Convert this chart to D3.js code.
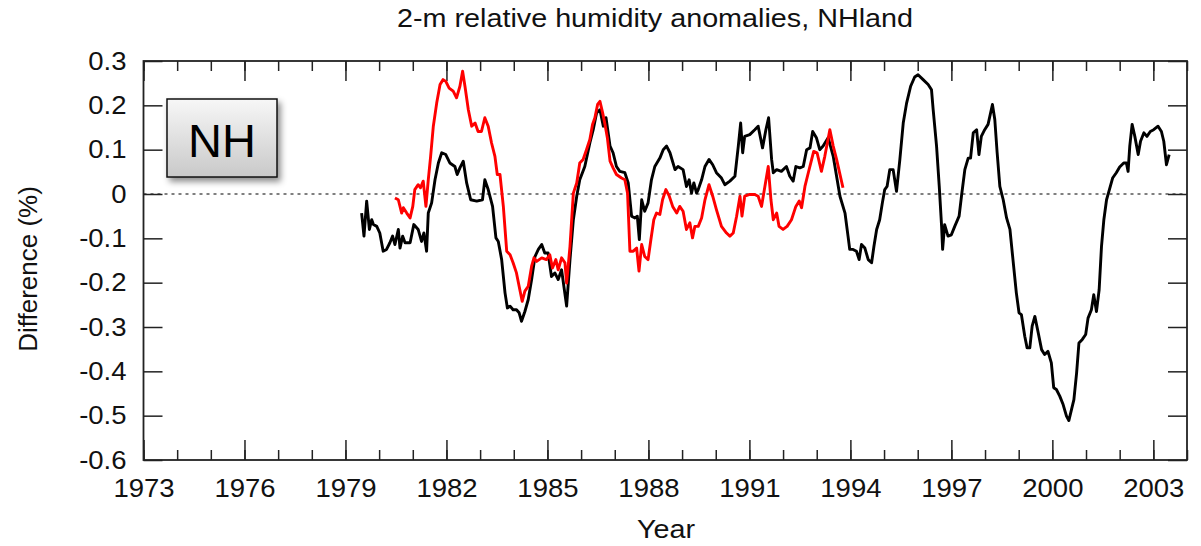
<!DOCTYPE html>
<html>
<head>
<meta charset="utf-8">
<script src="https://cdn.jsdelivr.net/npm/d3@7"></script>
<style>
  html, body { margin: 0; padding: 0; background: #fff; }
  svg { display: block; font-family: "Liberation Sans", Arial, Helvetica, sans-serif; }
</style>
</head>
<body>
<svg id="chart" width="1201" height="546"></svg>
<script>
// Two monthly-ish series (year, % difference)
const blackYears = [1979.48,1979.55,1979.63,1979.71,1979.78,1979.83,1979.93,1980.02,1980.12,1980.22,1980.32,1980.40,1980.47,1980.57,1980.62,1980.70,1980.77,1980.92,1981.03,1981.16,1981.26,1981.33,1981.41,1981.46,1981.56,1981.66,1981.76,1981.86,1981.98,1982.10,1982.25,1982.32,1982.40,1982.50,1982.60,1982.72,1982.90,1983.07,1983.14,1983.24,1983.37,1983.47,1983.54,1983.64,1983.74,1983.81,1983.89,1983.98,1984.08,1984.16,1984.23,1984.33,1984.43,1984.53,1984.63,1984.73,1984.83,1984.92,1985.02,1985.12,1985.22,1985.32,1985.42,1985.57,1985.67,1985.77,1985.87,1985.96,1986.11,1986.26,1986.36,1986.46,1986.56,1986.66,1986.74,1986.86,1986.95,1987.05,1987.15,1987.30,1987.40,1987.50,1987.60,1987.67,1987.73,1987.80,1987.89,1987.99,1988.09,1988.19,1988.34,1988.44,1988.54,1988.64,1988.79,1988.88,1989.03,1989.13,1989.21,1989.28,1989.35,1989.43,1989.48,1989.58,1989.68,1989.80,1989.91,1990.02,1990.17,1990.27,1990.42,1990.57,1990.67,1990.74,1990.80,1990.86,1991.01,1991.16,1991.26,1991.39,1991.49,1991.57,1991.66,1991.71,1991.81,1991.95,1992.10,1992.20,1992.30,1992.38,1992.50,1992.60,1992.70,1992.80,1992.88,1992.99,1993.09,1993.19,1993.34,1993.49,1993.59,1993.69,1993.84,1993.93,1993.98,1994.08,1994.18,1994.26,1994.33,1994.43,1994.53,1994.63,1994.70,1994.78,1994.87,1994.95,1995.02,1995.09,1995.17,1995.27,1995.37,1995.47,1995.57,1995.67,1995.79,1995.91,1996.01,1996.16,1996.31,1996.41,1996.46,1996.56,1996.64,1996.71,1996.74,1996.80,1996.90,1997.00,1997.10,1997.23,1997.30,1997.40,1997.50,1997.57,1997.65,1997.75,1997.82,1997.89,1997.99,1998.09,1998.22,1998.29,1998.36,1998.44,1998.54,1998.64,1998.74,1998.83,1998.93,1999.01,1999.08,1999.18,1999.25,1999.33,1999.40,1999.48,1999.58,1999.68,1999.77,1999.87,1999.97,2000.04,2000.12,2000.22,2000.32,2000.42,2000.49,2000.57,2000.64,2000.72,2000.79,2000.89,2000.99,2001.06,2001.16,2001.23,2001.31,2001.39,2001.46,2001.53,2001.61,2001.68,2001.79,2001.90,2002.00,2002.12,2002.20,2002.25,2002.30,2002.37,2002.45,2002.55,2002.62,2002.72,2002.81,2002.91,2003.01,2003.14,2003.24,2003.31,2003.39,2003.47];
const blackValues = [-0.043,-0.095,-0.016,-0.080,-0.058,-0.069,-0.073,-0.088,-0.129,-0.125,-0.110,-0.095,-0.114,-0.080,-0.122,-0.095,-0.110,-0.110,-0.069,-0.080,-0.107,-0.088,-0.129,-0.043,-0.020,0.032,0.070,0.093,0.089,0.070,0.062,0.044,0.059,0.074,0.025,-0.013,-0.016,-0.013,0.032,0.010,-0.028,-0.099,-0.107,-0.148,-0.223,-0.257,-0.253,-0.261,-0.261,-0.268,-0.287,-0.265,-0.238,-0.193,-0.141,-0.125,-0.114,-0.133,-0.133,-0.186,-0.178,-0.193,-0.171,-0.253,-0.148,-0.058,-0.005,0.032,0.062,0.115,0.145,0.183,0.190,0.153,0.172,0.108,0.093,0.062,0.051,0.048,0.025,-0.050,-0.054,-0.050,-0.103,-0.013,-0.039,-0.020,0.032,0.062,0.081,0.100,0.108,0.093,0.055,0.062,0.055,0.017,0.032,0.002,0.025,0.002,0.010,0.032,0.062,0.078,0.066,0.048,0.036,0.021,0.029,0.040,0.108,0.160,0.093,0.130,0.134,0.145,0.153,0.104,0.145,0.172,0.078,0.048,0.055,0.051,0.062,0.040,0.029,0.062,0.059,0.062,0.100,0.104,0.141,0.127,0.100,0.108,0.127,0.085,0.040,-0.005,-0.043,-0.095,-0.125,-0.125,-0.129,-0.148,-0.114,-0.122,-0.148,-0.155,-0.118,-0.080,-0.058,-0.020,0.010,0.017,0.055,0.055,0.006,0.078,0.160,0.205,0.243,0.264,0.269,0.258,0.247,0.235,0.190,0.108,0.017,-0.073,-0.125,-0.069,-0.095,-0.092,-0.073,-0.050,-0.005,0.055,0.081,0.081,0.138,0.145,0.089,0.130,0.145,0.157,0.202,0.168,0.093,0.017,-0.013,-0.054,-0.080,-0.148,-0.223,-0.268,-0.272,-0.321,-0.347,-0.347,-0.298,-0.276,-0.313,-0.351,-0.362,-0.355,-0.381,-0.437,-0.441,-0.456,-0.475,-0.501,-0.511,-0.486,-0.464,-0.404,-0.336,-0.328,-0.317,-0.280,-0.261,-0.227,-0.265,-0.216,-0.118,-0.058,-0.013,0.006,0.036,0.048,0.061,0.070,0.070,0.051,0.108,0.157,0.130,0.089,0.119,0.138,0.130,0.141,0.145,0.153,0.141,0.119,0.066,0.089];

const redYears = [1980.47,1980.57,1980.67,1980.72,1980.82,1980.92,1981.00,1981.06,1981.16,1981.23,1981.31,1981.39,1981.46,1981.53,1981.61,1981.71,1981.81,1981.90,1981.98,1982.08,1982.20,1982.30,1982.40,1982.48,1982.55,1982.65,1982.75,1982.85,1982.94,1983.04,1983.14,1983.24,1983.34,1983.44,1983.51,1983.59,1983.69,1983.79,1983.89,1983.98,1984.08,1984.18,1984.25,1984.33,1984.43,1984.53,1984.60,1984.68,1984.83,1984.97,1985.07,1985.15,1985.25,1985.32,1985.42,1985.52,1985.57,1985.67,1985.77,1985.87,1985.96,1986.06,1986.16,1986.26,1986.34,1986.41,1986.49,1986.56,1986.64,1986.71,1986.78,1986.86,1986.95,1987.05,1987.20,1987.30,1987.38,1987.45,1987.55,1987.65,1987.72,1987.80,1987.89,1987.99,1988.06,1988.16,1988.24,1988.34,1988.42,1988.52,1988.62,1988.72,1988.84,1988.93,1989.03,1989.13,1989.23,1989.31,1989.38,1989.48,1989.58,1989.68,1989.80,1989.91,1990.02,1990.17,1990.32,1990.42,1990.52,1990.62,1990.72,1990.78,1990.86,1991.01,1991.16,1991.26,1991.36,1991.46,1991.56,1991.64,1991.71,1991.81,1991.88,1992.00,1992.12,1992.25,1992.38,1992.48,1992.55,1992.65,1992.75,1992.85,1992.91,1993.01,1993.14,1993.24,1993.39,1993.49,1993.59,1993.78];
const redValues = [-0.009,-0.013,-0.043,-0.031,-0.043,-0.054,-0.028,0.010,0.021,0.014,0.029,-0.028,0.032,0.085,0.153,0.205,0.247,0.258,0.254,0.239,0.232,0.217,0.243,0.277,0.243,0.190,0.153,0.160,0.141,0.141,0.172,0.153,0.115,0.085,0.044,0.044,-0.028,-0.129,-0.137,-0.155,-0.178,-0.216,-0.242,-0.219,-0.208,-0.163,-0.144,-0.152,-0.144,-0.148,-0.137,-0.167,-0.148,-0.171,-0.144,-0.155,-0.201,-0.118,0.002,0.025,0.070,0.078,0.100,0.123,0.157,0.172,0.202,0.209,0.183,0.157,0.127,0.074,0.059,0.044,0.036,0.032,0.002,-0.129,-0.129,-0.122,-0.174,-0.114,-0.141,-0.148,-0.110,-0.058,-0.043,-0.046,-0.013,0.010,-0.005,-0.028,-0.043,-0.028,-0.039,-0.080,-0.065,-0.099,-0.073,-0.073,-0.054,-0.013,0.021,-0.005,-0.035,-0.073,-0.088,-0.095,-0.088,-0.050,-0.005,-0.050,-0.005,-0.001,-0.001,-0.005,-0.028,0.017,0.062,-0.013,-0.058,-0.043,-0.073,-0.080,-0.073,-0.058,-0.028,-0.016,-0.031,0.017,0.048,0.078,0.096,0.093,0.051,0.085,0.145,0.108,0.078,0.014];

const yearTicks = [1973,1976,1979,1982,1985,1988,1991,1994,1997,2000,2003];
const valueTicks = [0.3,0.2,0.1,0,-0.1,-0.2,-0.3,-0.4,-0.5,-0.6];

const plotLeft = 143.5, plotRight = 1187, plotTop = 61, plotBottom = 460;
const stretch = 1.1; // reference text is a bit wide

const svg = d3.select('#chart');

const x = d3.scaleLinear().domain([1973, 2004]).range([plotLeft, plotRight]);
const y = d3.scaleLinear().domain([-0.6, 0.3]).range([plotBottom, plotTop]);

// box gradient + shadow
const defs = svg.append('defs');
const grad = defs.append('linearGradient').attr('id', 'boxfill')
  .attr('x1', 0).attr('y1', 0).attr('x2', 0).attr('y2', 1);
grad.append('stop').attr('offset', '0%').attr('stop-color', '#f7f7f7');
grad.append('stop').attr('offset', '100%').attr('stop-color', '#c9c9c9');
defs.append('filter').attr('id', 'shadow')
  .attr('x', '-20%').attr('y', '-20%').attr('width', '150%').attr('height', '160%')
  .append('feDropShadow').attr('dx', 3).attr('dy', 4).attr('stdDeviation', 3)
  .attr('flood-color', '#000').attr('flood-opacity', 0.45);

// zero line
svg.append('line')
  .attr('x1', plotLeft).attr('x2', plotRight)
  .attr('y1', y(0)).attr('y2', y(0))
  .attr('stroke', '#555').attr('stroke-width', 1.5)
  .attr('stroke-dasharray', '3,4');

// axes (ticks point inward, gnuplot style)
const minorYears = d3.range(1973, 2005);
const fmtY = d => d === 0 ? '0' : d.toFixed(1);

const axisStyle = g => {
  g.select('.domain').remove();
  g.selectAll('.tick line').attr('stroke', '#222').attr('stroke-width', 1.5);
  g.selectAll('text').attr('fill', '#111').style('font-size', '25px')
    .style('font-family', '"Liberation Sans", Arial, Helvetica, sans-serif');
};

svg.append('g').attr('transform', `translate(0,${plotBottom})`)
  .call(d3.axisBottom(x).tickValues(minorYears).tickSize(-10).tickFormat(''))
  .call(axisStyle);
svg.append('g').attr('transform', `translate(0,${plotTop})`)
  .call(d3.axisTop(x).tickValues(minorYears).tickSize(-10).tickFormat(''))
  .call(axisStyle);
svg.append('g').attr('transform', `translate(0,${plotBottom})`)
  .call(d3.axisBottom(x).tickValues(yearTicks).tickSize(-20).tickPadding(19).tickFormat(d3.format('d')))
  .call(axisStyle)
  .call(g => g.selectAll('text').attr('transform', `scale(${stretch},1)`));
svg.append('g').attr('transform', `translate(0,${plotTop})`)
  .call(d3.axisTop(x).tickValues(yearTicks).tickSize(-20).tickFormat(''))
  .call(axisStyle);
svg.append('g').attr('transform', `translate(${plotLeft},0)`)
  .call(d3.axisLeft(y).tickValues(valueTicks).tickSize(-19).tickFormat(fmtY))
  .call(axisStyle)
  .call(g => g.selectAll('text').attr('x', -17 / stretch).attr('transform', `scale(${stretch},1)`));
svg.append('g').attr('transform', `translate(${plotRight},0)`)
  .call(d3.axisRight(y).tickValues(valueTicks).tickSize(-19).tickFormat(''))
  .call(axisStyle);

// series
const line = d3.line().x(d => x(d[0])).y(d => y(d[1]));
const blackData = d3.zip(blackYears, blackValues);
const redData = d3.zip(redYears, redValues);

svg.append('path').datum(blackData)
  .attr('fill', 'none').attr('stroke', '#000').attr('stroke-width', 2.9)
  .attr('stroke-linejoin', 'round').attr('d', line);
svg.append('path').datum(redData)
  .attr('fill', 'none').attr('stroke', '#ff0000').attr('stroke-width', 2.9)
  .attr('stroke-linejoin', 'round').attr('d', line);

// frame
svg.append('rect')
  .attr('x', plotLeft).attr('y', plotTop)
  .attr('width', plotRight - plotLeft).attr('height', plotBottom - plotTop)
  .attr('fill', 'none').attr('stroke', '#222').attr('stroke-width', 1.8);

// NH label box
const box = svg.append('g');
box.append('rect')
  .attr('x', 167).attr('y', 99).attr('width', 110).attr('height', 78)
  .attr('fill', 'url(#boxfill)').attr('stroke', '#111').attr('stroke-width', 1.5)
  .attr('filter', 'url(#shadow)');
box.append('text')
  .attr('x', 222).attr('y', 157)
  .attr('text-anchor', 'middle')
  .style('font-size', '47px').attr('fill', '#000')
  .text('NH');

// titles
svg.append('text')
  .attr('transform', 'translate(655,27) scale(1.15,1)')
  .attr('text-anchor', 'middle')
  .style('font-size', '25px').attr('fill', '#111')
  .text('2-m relative humidity anomalies, NHland');

svg.append('text')
  .attr('transform', 'translate(37,269) rotate(-90)')
  .attr('text-anchor', 'middle')
  .style('font-size', '26px').attr('fill', '#111')
  .text('Difference (%)');

svg.append('text')
  .attr('transform', 'translate(666,538) scale(1.15,1)')
  .attr('text-anchor', 'middle')
  .style('font-size', '25px').attr('fill', '#111')
  .text('Year');
</script>
</body>
</html>
